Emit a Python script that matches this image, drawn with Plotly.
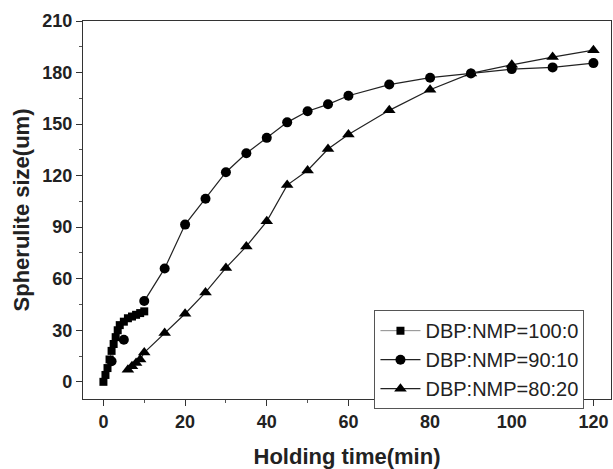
import plotly.graph_objects as go

# DBP:NMP = 100:0 (squares)
t_100 = [0, 0.5, 1, 1.5, 2, 2.5, 3, 3.5, 4, 5, 6, 7, 8, 9, 10]
s_100 = [0, 4, 8, 13, 18, 22, 26, 30, 33, 35, 37, 38, 39, 40, 41]

# DBP:NMP = 90:10 (circles); early points are not joined by a line
t_90 = [2, None, 5, None, 10, 15, 20, 25, 30, 35, 40, 45, 50, 55, 60, 70, 80, 90, 100, 110, 120]
s_90 = [12, None, 24.5, None, 47, 66, 91.5, 106.5, 122, 133, 142, 151, 157.5, 161.5, 166.5, 173, 177, 179.5, 182, 183, 185.5]

# DBP:NMP = 80:20 (triangles)
t_80 = [6, 7, 8, 9, 10, 15, 20, 25, 30, 35, 40, 45, 50, 55, 60, 70, 80, 90, 100, 110, 120]
s_80 = [7, 9, 11, 13, 17, 28.4, 39.6, 52, 66.3, 78.8, 93.4, 114.5, 123, 135.5, 144, 158, 170, 179.5, 184.5, 189, 193]

labels = ["DBP:NMP=100:0", "DBP:NMP=90:10", "DBP:NMP=80:20"]

FONT = "Liberation Sans, Arial, sans-serif"

fig = go.Figure()
fig.add_trace(go.Scatter(x=t_100, y=s_100, name=labels[0], mode="lines+markers",
                         line=dict(color="#8a8a8a", width=1),
                         marker=dict(symbol="square", size=8, color="black")))
fig.add_trace(go.Scatter(x=t_90, y=s_90, name=labels[1], mode="lines+markers",
                         connectgaps=False,
                         line=dict(color="#222222", width=1.2),
                         marker=dict(symbol="circle", size=10, color="black")))
fig.add_trace(go.Scatter(x=t_80, y=s_80, name=labels[2], mode="lines+markers",
                         line=dict(color="#222222", width=1.2),
                         marker=dict(symbol="triangle-up", size=11, color="black")))

axis_common = dict(
    showline=True, linecolor="#333333", linewidth=1.3, mirror=True,
    ticks="outside", ticklen=6, tickwidth=1.2, tickcolor="#333333",
    showgrid=False, zeroline=False,
    tickfont=dict(family=FONT, size=18, color="#222222", weight="bold"),
)

fig.update_xaxes(range=[-5, 124.3], tickvals=[0, 20, 40, 60, 80, 100, 120],
                 minor=dict(ticks="outside", ticklen=3, tickwidth=1, tickcolor="#555555", dtick=10, tick0=0),
                 title=dict(text="Holding time(min)", standoff=18,
                            font=dict(family=FONT, size=22, color="#222222", weight="bold")),
                 **axis_common)
fig.update_yaxes(range=[-10, 210], tickvals=[0, 30, 60, 90, 120, 150, 180, 210],
                 minor=dict(ticks="outside", ticklen=3, tickwidth=1, tickcolor="#555555", dtick=15, tick0=0),
                 title=dict(text="Spherulite size(um)", standoff=6,
                            font=dict(family=FONT, size=22, color="#222222", weight="bold")),
                 **axis_common)

fig.update_layout(
    width=613, height=469,
    margin=dict(l=83, r=2, t=21, b=70),
    plot_bgcolor="white", paper_bgcolor="white",
    legend=dict(x=0.552, y=0.235, xanchor="left", yanchor="top",
                bgcolor="white", bordercolor="#555555", borderwidth=1,
                font=dict(family=FONT, size=20, color="#222222"),
                tracegroupgap=0, itemwidth=40),
    showlegend=True,
)

fig.write_html("out.html")
